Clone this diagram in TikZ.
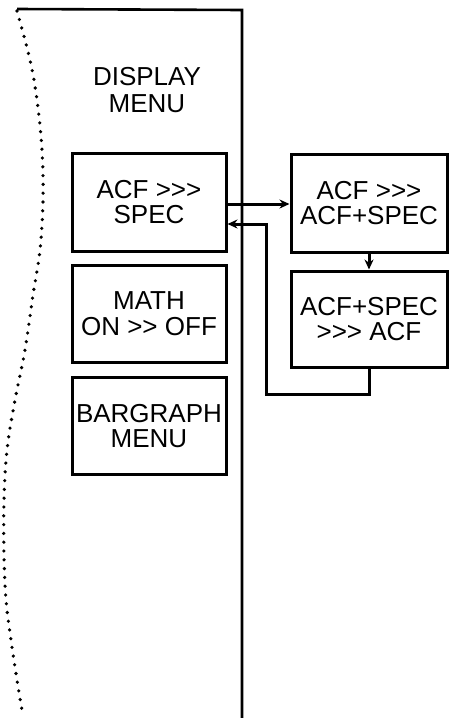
\documentclass[tikz,border=0pt]{standalone}
\usepackage{fontspec}
\setmainfont{Liberation Sans}[Ligatures=TeXOff]
\usetikzlibrary{arrows.meta}
\begin{document}
\begin{tikzpicture}[x=1pt,y=-1pt,
  menubox/.style={draw,line width=3pt,minimum width=154pt,minimum height=97pt,inner sep=0pt,align=center,font=\fontsize{26}{25.5}\selectfont},
  conn/.style={line width=3pt},
  arr/.style={conn,-{Stealth[length=10pt,width=9pt]}}]
\useasboundingbox (0,0) rectangle (450,718);
% panel
\draw[line width=2.6pt] (17,9) -- (242,10) -- (242,718);
\draw[line width=3.6pt,line cap=round,dash pattern=on 0pt off 8.8pt]
  plot[smooth,tension=0.6] coordinates {(17,11) (30,60) (37,100) (42,150) (43,200) (40,250) (33,295) (25,350) (15,400) (7,450) (4,500) (4,555) (6,600) (11,640) (17,680) (23,716)};
\node[font=\fontsize{26}{27.5}\selectfont,align=center] (title) at (147,90) {DISPLAY\\MENU};
% left boxes
\node[menubox,minimum height=98pt] (a1) at (149,202) {ACF >>>\\SPEC};
\node[menubox] (a2) at (149,313.5) {MATH\\ON >> OFF};
\node[menubox] (a3) at (149,426) {BARGRAPH\\MENU};
% right boxes
\node[menubox,minimum width=156pt,minimum height=98pt] (r1) at (369,203) {ACF >>>\\ACF+SPEC};
\node[menubox,minimum width=156pt,minimum height=96pt] (r2) at (369,319) {ACF+SPEC\\>>> ACF};
% connectors
\draw[arr] (a1.east |- 0,204) -- (r1.west |- 0,204);
\draw[arr] (r1.south) -- (r2.north);
\coordinate (turn) at (266,394);
\draw[arr] (r2.south) |- (turn) |- (a1.east |- 0,224);
\end{tikzpicture}
\end{document}
